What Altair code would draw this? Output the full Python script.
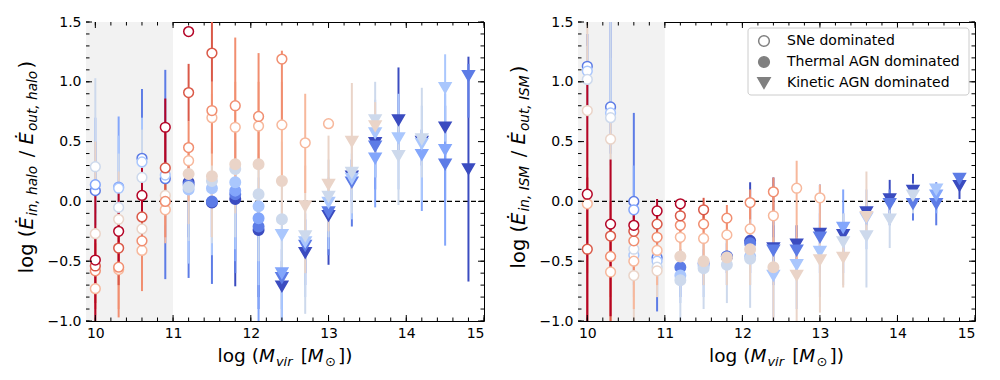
import altair as alt
import pandas as pd

# coolwarm colours, one per series (0 = dark blue ... 9 = dark red)
PALETTE = ["#3b4cc0", "#5d7ce6", "#83a6fb", "#aac7fd", "#cdd9ec",
           "#ead4c8", "#f7b89c", "#f18e70", "#da5948", "#b40426"]

MASS_BINS = [10.0, 10.3, 10.6, 10.9, 11.2, 11.5, 11.8, 12.1, 12.4,
             12.7, 13.0, 13.3, 13.6, 13.9, 14.2, 14.5, 14.8]

# ---------------- left panel: halo ----------------
halo_series = [
    [9, 8, 7, 6, 5, 4, 2, 1],
    [9, 8, 7, 6, 5, 4, 3, 2],
    [9, 8, 7, 6, 5, 4, 3, 1],
    [9, 8, 7, 6, 5, 3, 1],
    [9, 8, 7, 6, 5, 4, 3, 1, 0],
    [8, 7, 6, 5, 4, 3, 1, 0],
    [7, 6, 5, 4, 3, 2, 1, 0],
    [7, 6, 5, 4, 3, 2, 1, 0],
    [7, 6, 5, 4, 3, 2, 1, 0],
    [6, 5, 4, 3, 1, 0],
    [6, 5, 4, 3, 1, 0],
    [5, 4, 3, 1, 0],
    [5, 4, 3, 2, 1, 0],
    [4, 3, 0],
    [4, 3, 2, 0],
    [3, 2, 1, 0],
    [1, 0],
]
halo_value = [
    [-0.49, -0.54, -0.58, -0.73, -0.27, 0.29, 0.14, 0.09],
    [-0.25, -0.39, -0.55, -0.57, -0.15, -0.05, 0.11, 0.12],
    [0.05, -0.13, -0.33, -0.41, -0.23, 0.20, 0.33, 0.36],
    [0.62, 0.28, 0.00, -0.07, 0.05, 0.22, 0.19],
    [1.42, 0.91, 0.45, 0.34, 0.23, 0.12, 0.10, 0.14, 0.16],
    [1.24, 0.76, 0.70, 0.21, 0.17, 0.11, 0.00, -0.01],
    [0.80, 0.62, 0.31, 0.27, 0.16, 0.09, 0.06, 0.02],
    [0.71, 0.63, 0.31, 0.06, -0.04, -0.14, -0.21, -0.24],
    [1.19, 0.64, 0.17, -0.15, -0.28, -0.60, -0.64, -0.71],
    [0.49, -0.04, -0.29, -0.34, -0.37, -0.43],
    [0.65, 0.14, 0.04, -0.01, -0.09, -0.12],
    [0.50, 0.24, 0.19, 0.16, 0.21],
    [0.63, 0.68, 0.57, 0.36, 0.46, 0.49],
    [0.38, 0.53, 0.68],
    [0.52, 0.48, 0.39, 0.50],
    [0.95, 0.43, 0.31, 0.62],
    [1.05, 0.27],
]
halo_low = [
    [-1.10, -0.85, -0.90, -0.95, -0.60, -0.10, -0.20, -0.10],
    [-0.57, -0.70, -0.97, -0.90, -0.45, -0.30, -0.10, -0.10],
    [-0.15, -0.35, -0.75, -0.70, -0.50, -0.10, 0.00, 0.10],
    [0.23, 0.00, -0.30, -0.35, -0.20, -0.10, -0.65],
    [1.42, 0.67, 0.10, 0.00, -0.19, -0.33, -0.52, -0.64, -0.30],
    [1.00, 0.40, 0.30, -0.30, -0.35, -0.45, -0.69, -0.30],
    [0.30, 0.20, -0.10, -0.30, -0.40, -0.50, -0.60, -0.71],
    [0.30, 0.35, -0.10, -0.50, -0.70, -1.10, -0.90, -0.80],
    [0.60, 0.20, -0.20, -0.60, -1.10, -1.10, -0.90, -1.00],
    [0.07, -0.60, -0.94, -0.80, -0.70, -0.60],
    [0.65, -0.25, -0.30, -0.40, -0.45, -0.53],
    [0.10, -0.10, -0.15, -0.21, 0.00],
    [0.40, 0.40, 0.20, -0.05, 0.10, 0.20],
    [-0.03, 0.10, 0.40],
    [0.20, 0.00, -0.08, 0.30],
    [0.50, -0.37, 0.00, 0.30],
    [0.70, -0.67],
]
halo_high = [
    [0.12, -0.30, -0.35, -0.50, 0.50, 1.03, 0.70, 0.50],
    [0.08, -0.10, -0.30, -0.35, 0.25, 0.40, 0.55, 0.71],
    [0.28, 0.10, -0.10, -0.20, 0.10, 0.60, 0.70, 0.94],
    [0.86, 0.60, 0.30, 0.15, 0.30, 0.60, 1.10],
    [1.42, 1.15, 0.67, 0.50, 0.40, 0.30, 0.30, 0.35, 0.30],
    [1.55, 1.00, 0.90, 0.50, 0.45, 0.30, 0.25, 0.20],
    [1.37, 1.00, 0.60, 0.50, 0.35, 0.30, 0.25, 0.20],
    [1.24, 1.00, 0.60, 0.40, 0.20, 0.10, 0.00, -0.05],
    [1.26, 1.00, 0.50, 0.20, 0.00, -0.30, -0.40, -0.50],
    [0.90, 0.30, 0.00, -0.10, -0.15, -0.30],
    [0.65, 0.55, 0.35, 0.20, 0.05, 0.00],
    [0.99, 0.50, 0.40, 0.35, 0.35],
    [0.83, 1.00, 0.85, 0.65, 0.70, 0.60],
    [0.70, 0.90, 1.12],
    [0.95, 0.80, 0.60, 0.60],
    [1.23, 0.90, 0.60, 0.80],
    [1.15, 1.21],
]
# S = SNe dominated, T = thermal AGN dominated, K = kinetic AGN dominated
halo_mode = ["SSSSSSSS", "SSSSSSSS", "SSSSSSSS", "SSSSSSS", "SSSSTTTTT",
             "SSSTTTTT", "SSTTTTTT", "SSTTTTTT", "SSTTKKKK", "SKKKKK",
             "SKKKKK", "KKKKK", "KKKKKK", "KKK", "KKKK", "KKKK", "KK"]

# ---------------- right panel: ISM ----------------
ism_series = [
    [9, 8, 6, 5, 4, 3, 1],
    [9, 8, 7, 6, 5, 4, 3, 1],
    [9, 8, 7, 6, 5, 4, 3, 2, 1],
    [9, 8, 7, 6, 5, 4, 3, 1],
    [9, 8, 7, 6, 5, 4, 3, 1],
    [8, 7, 6, 5, 4, 3, 1],
    [7, 6, 5, 4, 1, 0],
    [7, 6, 5, 4, 3, 1, 0],
    [7, 6, 5, 3, 1, 0],
    [6, 5, 3, 1, 0],
    [6, 5, 3, 1, 0],
    [5, 4, 2, 0],
    [5, 4, 3, 0],
    [4, 1, 0],
    [4, 1, 0],
    [3, 2, 1],
    [1, 0],
]
ism_value = [
    [0.06, -0.40, -0.02, 0.76, 1.02, 1.09, 1.13],
    [-0.19, -0.29, -0.46, -0.59, 0.52, 0.70, 0.74, 0.79],
    [-0.20, -0.25, -0.33, -0.50, -0.62, -0.40, -0.45, -0.07, 0.00],
    [-0.08, -0.19, -0.30, -0.41, -0.58, -0.55, -0.50, -0.47],
    [-0.02, -0.12, -0.20, -0.30, -0.46, -0.66, -0.62, -0.55],
    [-0.07, -0.19, -0.31, -0.50, -0.56, -0.54, -0.52],
    [-0.14, -0.28, -0.47, -0.53, -0.46, -0.46],
    [-0.01, -0.23, -0.40, -0.48, -0.46, -0.35, -0.33],
    [0.08, -0.12, -0.55, -0.62, -0.41, -0.39],
    [0.11, -0.62, -0.53, -0.41, -0.36],
    [0.03, -0.49, -0.42, -0.30, -0.27],
    [-0.47, -0.34, -0.22, -0.28],
    [-0.13, -0.29, -0.14, -0.09],
    [-0.15, -0.02, 0.02],
    [0.05, -0.02, 0.09],
    [0.10, 0.05, -0.02],
    [0.19, 0.13],
]
ism_low = [
    [-1.10, -1.10, -0.60, 0.30, 0.60, 0.70, 0.80],
    [-0.96, -1.10, -0.80, -1.00, 0.00, 0.30, 0.40, 0.40],
    [-0.39, -0.50, -0.60, -0.90, -1.10, -0.80, -0.70, -0.30, -0.20],
    [-0.16, -0.35, -0.50, -0.70, -0.80, -0.80, -0.70, -0.92],
    [-0.02, -0.25, -0.35, -0.50, -0.70, -1.10, -0.85, -0.80],
    [-0.15, -0.30, -0.50, -0.70, -0.90, -0.80, -0.70],
    [-0.30, -0.50, -0.70, -0.85, -0.70, -0.60],
    [-0.15, -0.45, -0.70, -0.89, -0.70, -0.60, -0.50],
    [-0.10, -0.40, -1.10, -1.00, -0.70, -0.50],
    [-0.50, -1.10, -0.90, -0.60, -0.50],
    [-0.30, -0.93, -0.80, -0.60, -0.40],
    [-0.72, -0.70, -0.60, -0.45],
    [-0.30, -0.72, -0.40, -0.20],
    [-0.39, -0.20, -0.10],
    [-0.10, -0.16, 0.00],
    [0.00, -0.10, -0.20],
    [0.10, 0.02],
]
ism_high = [
    [1.03, 0.20, 0.50, 1.60, 1.30, 1.30, 1.40],
    [0.35, 0.00, -0.20, -0.30, 0.80, 1.60, 1.20, 1.60],
    [-0.04, 0.00, -0.10, -0.30, -0.30, -0.20, -0.20, 0.30, 0.74],
    [0.02, -0.05, -0.10, -0.20, -0.40, -0.30, -0.30, -0.30],
    [-0.02, 0.00, -0.05, -0.15, -0.30, -0.40, -0.40, -0.40],
    [0.03, -0.05, -0.10, -0.30, -0.35, -0.35, -0.40],
    [-0.03, -0.10, -0.30, -0.30, -0.30, -0.35],
    [0.10, -0.05, -0.20, -0.20, -0.30, -0.20, 0.16],
    [0.20, 0.05, -0.30, -0.40, -0.20, 0.20],
    [0.34, -0.30, -0.30, -0.20, -0.20],
    [0.14, -0.20, -0.20, -0.10, 0.14],
    [-0.20, -0.10, 0.10, -0.10],
    [0.25, 0.00, 0.10, 0.00],
    [0.05, 0.10, 0.18],
    [0.15, 0.10, 0.23],
    [0.15, 0.12, 0.16],
    [0.20, 0.20],
]
ism_mode = ["SSSSSSS", "SSSSSSSS", "SSSSSSSSS", "SSSSSSSS", "SSSSTTTT",
            "SSSTTTT", "SSTTTT", "SSTTTTT", "SSTKKK", "SKKKK", "SKKKK",
            "KKKK", "KKKK", "KKK", "KKK", "KKK", "KK"]

# axes / decorations
X_DOMAIN = [9.88, 15.0]
Y_DOMAIN = [-1.0, 1.5]
SHADE_X = [9.88, 11.0]
X_MAJOR = [10, 11, 12, 13, 14, 15]
X_MINOR = [round(10 + 0.2 * i, 1) for i in range(26)]
Y_MAJOR = [-1.0, -0.5, 0.0, 0.5, 1.0, 1.5]
Y_MINOR = [round(-1.0 + 0.1 * i, 1) for i in range(26)]

LEG_LABELS = ["SNe dominated", "Thermal AGN dominated", "Kinetic AGN dominated"]
LEG_SHAPES = ["circle", "circle", "triangle-down"]
LEG_FILLS = ["white", "#808080", "#808080"]

W1, W2, H = 398, 397, 299
FONT = "DejaVu Sans"
SUBF = 0.7

DV = {' ': 318, '(': 390, ')': 390, '[': 390, ']': 390, '/': 337, ',': 318,
      'l': 278, 'o': 612, 'g': 635, 'i': 278, 'n': 634, 'h': 634, 'a': 613,
      'u': 634, 't': 392, 'v': 592, 'r': 411, 'E': 632, '\u0116': 632,
      'M': 863, 'I': 295, 'S': 635, '\u2299': 838}


def tw(s, fs):
    return sum(DV.get(c, 600) for c in s) * fs / 1000.0


xs = alt.Scale(domain=X_DOMAIN, nice=False, zero=False)
ys = alt.Scale(domain=Y_DOMAIN, nice=False, zero=False)
AX_X = alt.Axis(values=X_MAJOR, format="d", title=None, ticks=False, domain=False,
                grid=False, labelPadding=5)
AX_Y = alt.Axis(values=Y_MAJOR, format=".1f", title=None, ticks=False, domain=False,
                grid=False, labelPadding=5)


def build_df(series, value, low, high, mode):
    rows = []
    for b, m in enumerate(MASS_BINS):
        for s, v, lo, hi, k in zip(series[b], value[b], low[b], high[b], mode[b]):
            col = PALETTE[s]
            rows.append(dict(m=m, s=s, v=v, lo=lo, hi=hi, col=col,
                             fill="white" if k == "S" else col,
                             shape="triangle-down" if k == "K" else "circle",
                             size=140 if k == "K" else (95 if k == "S" else 110)))
    df = pd.DataFrame(rows).sort_values("s", kind="stable").reset_index(drop=True)
    df["ord"] = range(len(df))
    return df


def title_pieces(pieces, vertical, x0, y0, tfs, subgap):
    layers = []
    off = 0.0
    for txt, kind in pieces:
        sub = kind.startswith("s")
        fs = tfs * SUBF if sub else tfs
        lead = len(txt) - len(txt.lstrip(" "))
        body = txt.strip(" ")
        start = off + lead * 0.318 * fs
        shift = 0.22 * tfs if sub else 0.0
        style = "italic" if kind.endswith("i") else "normal"
        if vertical:
            px, py = x0 + shift, y0 - start
            mk = dict(angle=270)
        else:
            px, py = x0 + start, y0 + shift
            mk = {}
        layers.append(
            alt.Chart(pd.DataFrame({"t": [body]}))
            .mark_text(align="left", baseline="alphabetic", font=FONT,
                       fontSize=fs, fontStyle=style, color="black", **mk)
            .encode(text="t:N", x=alt.value(px), y=alt.value(py))
        )
        extra = subgap * tfs if sub else (0.06 * tfs if kind == "i" else 0.0)
        off += tw(txt, fs) + extra
    return layers, off


def panel(df, width, sub_label, legend=False):
    shade = alt.Chart(pd.DataFrame({"a": [SHADE_X[0]], "b": [SHADE_X[1]]})).mark_rect(
        color="#f2f2f2").encode(
        x=alt.X("a:Q", scale=xs, axis=AX_X), x2="b:Q", y=alt.value(0), y2=alt.value(H))
    zero = alt.Chart(pd.DataFrame({"z": [0.0]})).mark_rule(
        color="black", strokeWidth=1.2, strokeDash=[5, 3]).encode(
        y=alt.Y("z:Q", scale=ys, axis=AX_Y))
    bars = alt.Chart(df).mark_rule(strokeWidth=2, clip=True).encode(
        x=alt.X("m:Q", scale=xs, axis=AX_X),
        y=alt.Y("lo:Q", scale=ys, axis=AX_Y), y2="hi:Q",
        color=alt.Color("col:N", scale=None), order=alt.Order("ord:Q"))
    pts = alt.Chart(df).mark_point(filled=True, opacity=1, strokeWidth=1.5, clip=True).encode(
        x=alt.X("m:Q", scale=xs, axis=AX_X),
        y=alt.Y("v:Q", scale=ys, axis=AX_Y),
        fill=alt.Fill("fill:N", scale=None),
        stroke=alt.Stroke("col:N", scale=None),
        shape=alt.Shape("shape:N", scale=None),
        size=alt.Size("size:Q", scale=None),
        order=alt.Order("ord:Q"))

    layers = [shade, zero, bars, pts]
    # inward ticks on all four sides
    for vals, ln in ((X_MINOR, 3.5), (X_MAJOR, 6)):
        d = pd.DataFrame({"t": vals})
        layers.append(alt.Chart(d).mark_rule(color="black", strokeWidth=1).encode(
            x=alt.X("t:Q", scale=xs, axis=AX_X), y=alt.value(H), y2=alt.value(H - ln)))
        layers.append(alt.Chart(d).mark_rule(color="black", strokeWidth=1).encode(
            x=alt.X("t:Q", scale=xs, axis=AX_X), y=alt.value(0), y2=alt.value(ln)))
    for vals, ln in ((Y_MINOR, 3.5), (Y_MAJOR, 6)):
        d = pd.DataFrame({"t": vals})
        layers.append(alt.Chart(d).mark_rule(color="black", strokeWidth=1).encode(
            y=alt.Y("t:Q", scale=ys, axis=AX_Y), x=alt.value(0), x2=alt.value(ln)))
        layers.append(alt.Chart(d).mark_rule(color="black", strokeWidth=1).encode(
            y=alt.Y("t:Q", scale=ys, axis=AX_Y), x=alt.value(width), x2=alt.value(width - ln)))

    if legend:
        layers.append(alt.Chart(pd.DataFrame({"a": [0]})).mark_rect(
            fill="white", fillOpacity=0.85, stroke="#cccccc", strokeWidth=1, cornerRadius=3
        ).encode(x=alt.value(170), x2=alt.value(391), y=alt.value(6), y2=alt.value(73)))
        for i, lab in enumerate(LEG_LABELS):
            yy = 19 + 21 * i
            layers.append(alt.Chart(pd.DataFrame({"a": [0]})).mark_point(
                shape=LEG_SHAPES[i], filled=True, fill=LEG_FILLS[i], stroke="#808080",
                strokeWidth=1.5, opacity=1, size=150 if LEG_SHAPES[i] == "triangle-down" else 115
            ).encode(x=alt.value(186), y=alt.value(yy)))
            layers.append(alt.Chart(pd.DataFrame({"t": [lab]})).mark_text(
                align="left", baseline="middle", font=FONT, fontSize=14, color="black"
            ).encode(text="t:N", x=alt.value(209), y=alt.value(yy)))

    # y title
    ypieces = [("log (", "n"), ("\u0116", "i"), ("in, " + sub_label, "si"), (" / ", "n"),
               ("\u0116", "i"), ("out, " + sub_label, "si"), (")", "n")]
    _, total = title_pieces(ypieces, True, 0, 0, 19.5, 0.12)
    ylay, _ = title_pieces(ypieces, True, -53, 145 + total / 2, 19.5, 0.12)
    layers += ylay
    # x title
    xpieces = [("log (", "n"), ("M", "i"), ("vir", "si"), (" [", "n"), ("M", "i"),
               ("\u2299", "sn"), ("])", "n")]
    _, totx = title_pieces(xpieces, False, 0, 0, 18.5, 0.12)
    xlay, _ = title_pieces(xpieces, False, width / 2 - totx / 2, H + 41, 18.5, 0.12)
    layers += xlay

    return alt.layer(*layers).properties(width=width, height=H)


halo_df = build_df(halo_series, halo_value, halo_low, halo_high, halo_mode)
ism_df = build_df(ism_series, ism_value, ism_low, ism_high, ism_mode)

left = panel(halo_df, W1, "halo")
right = panel(ism_df, W2, "ISM", legend=True)

chart = alt.hconcat(left, right, spacing=94, bounds="flush",
                    padding={"left": 8, "top": 6, "right": 5, "bottom": 5}
                    ).configure_view(stroke="black", strokeWidth=1
                    ).configure_axis(labelFont=FONT, labelFontSize=14, labelColor="black")

chart.save("out.html", embed_options={"renderer": "svg", "actions": False})
